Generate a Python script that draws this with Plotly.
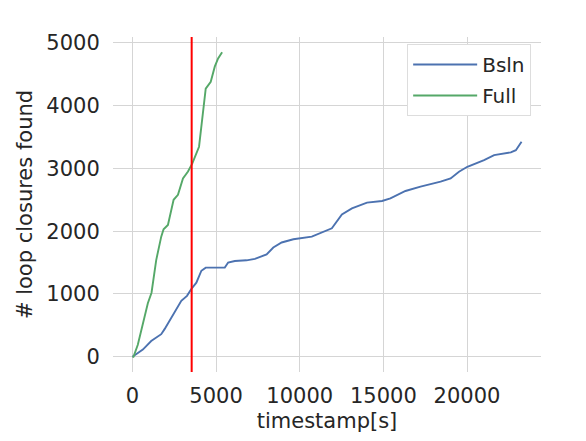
import plotly.graph_objects as go

# Baseline run (Bsln)
bsln_t = [0, 320, 620, 1120, 1420, 1720, 1920, 2220, 2520, 2920, 3260, 3520, 3820,
          4120, 4380, 5520, 5720, 6120, 6820, 7320, 8020, 8420, 8920, 9620, 10720,
          11920, 12520, 13120, 14020, 14920, 15420, 16320, 17220, 18420, 19020,
          19520, 20020, 21020, 21620, 22620, 22920, 23260]
bsln_n = [0, 60, 115, 250, 305, 360, 440, 570, 700, 890, 970, 1080, 1180,
          1370, 1420, 1420, 1500, 1525, 1536, 1560, 1630, 1740, 1820, 1871, 1913,
          2046, 2268, 2364, 2454, 2481, 2523, 2640, 2709, 2788, 2841,
          2947, 3026, 3132, 3212, 3254, 3290, 3423]

# Full run
full_t = [0, 60, 320, 620, 920, 1140, 1420, 1720, 1860, 2120, 2460, 2720, 3020,
          3320, 3580, 3980, 4100, 4380, 4680, 4920, 5120, 5360]
full_n = [0, 0, 190, 535, 853, 1020, 1540, 1913, 2030, 2100, 2500, 2580, 2840,
          2950, 3080, 3345, 3610, 4270, 4380, 4620, 4750, 4850]

vline_t = 3540

x_ticks = [0, 5000, 10000, 15000, 20000]
y_ticks = [0, 1000, 2000, 3000, 4000, 5000]

FONT = "DejaVu Sans"
GRID = "#d5d5d5"
TXT = "#262626"

fig = go.Figure()
fig.add_trace(go.Scatter(x=bsln_t, y=bsln_n, name="Bsln", mode="lines",
                         line=dict(color="#4C72B0", width=1.9), legendgroup="a"))
fig.add_trace(go.Scatter(x=full_t, y=full_n, name="Full", mode="lines",
                         line=dict(color="#55A868", width=1.9), legendgroup="b"))
fig.add_vline(x=vline_t, line_color="#ff0000", line_width=2)

x_pad = 0.05 * max(bsln_t + full_t)
y_pad = 0.05 * max(bsln_n + full_n)

# page body adds an 8px offset, so the figure is a bit smaller than the window
fig.update_layout(
    width=578, height=433,
    margin=dict(l=105, r=45, t=29, b=69),
    plot_bgcolor="white", paper_bgcolor="white",
    font=dict(family=FONT, size=20, color=TXT),
    showlegend=True,
    legend=dict(x=0.977, y=0.979, xanchor="right", yanchor="top",
                bgcolor="white", bordercolor="#dddddd", borderwidth=1,
                font=dict(size=20), tracegroupgap=2, itemwidth=64),
)
fig.update_xaxes(range=[-x_pad, max(bsln_t + full_t) + x_pad],
                 tickvals=x_ticks, ticktext=[str(v) for v in x_ticks],
                 showgrid=True, gridcolor=GRID, gridwidth=1,
                 zeroline=False, showline=False, automargin=False,
                 ticks="outside", ticklen=5, tickcolor="rgba(0,0,0,0)",
                 tickfont=dict(size=21),
                 title=dict(text="timestamp[s]", font=dict(size=21), standoff=6))
fig.update_yaxes(range=[-y_pad, max(bsln_n + full_n) + y_pad],
                 tickvals=y_ticks, ticktext=[str(v) for v in y_ticks],
                 showgrid=True, gridcolor=GRID, gridwidth=1,
                 zeroline=False, showline=False, automargin=False,
                 ticks="outside", ticklen=8, tickcolor="rgba(0,0,0,0)",
                 tickfont=dict(size=21),
                 title=dict(text="# loop closures found", font=dict(size=21), standoff=7))

fig.write_html("out.html")
